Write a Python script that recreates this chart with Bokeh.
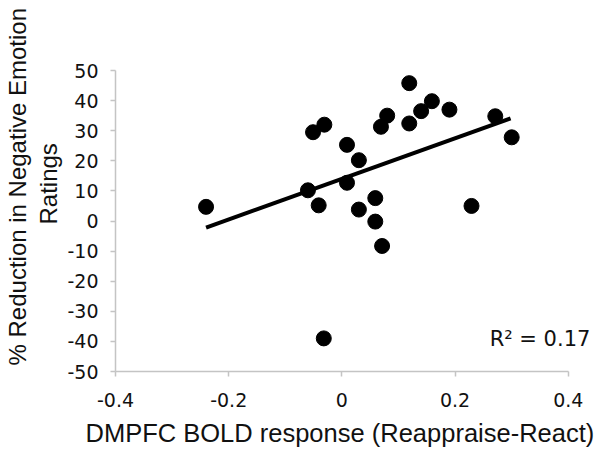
import numpy as np
from bokeh.plotting import figure
from bokeh.models import Range1d, Label, FixedTicker, Title
from bokeh.embed import file_html
from bokeh.resources import INLINE

# Data
dmpfc_bold = [-0.240, -0.060, -0.041, -0.051, -0.031, 0.009, 0.030, 0.009,
              0.030, 0.059, 0.059, 0.071, 0.069, 0.080, 0.119, 0.119,
              0.140, 0.159, 0.190, 0.229, 0.271, 0.300, -0.032]
reduction_pct = [4.7, 10.2, 5.2, 29.5, 32.0, 25.3, 20.2, 12.7,
                 3.8, 7.6, -0.2, -8.3, 31.3, 35.0, 45.8, 32.4,
                 36.5, 39.8, 37.0, 5.0, 34.8, 27.8, -39.0]
fit_x = [-0.240, 0.298]
fit_y = [-2.2, 34.1]
x_ticks = [-0.4, -0.2, 0, 0.2, 0.4]
y_ticks = [-50, -40, -30, -20, -10, 0, 10, 20, 30, 40, 50]
r2_text = "R\u00b2 = 0.17"
r2_pos = (0.439, -39.3)

p = figure(frame_width=476, frame_height=301, output_backend="svg", toolbar_location=None,
           x_range=Range1d(-0.4, 0.441), y_range=Range1d(-50, 50),
           min_border_left=115, min_border_right=9, min_border_top=70,
           min_border_bottom=60)
p.outline_line_color = None
p.grid.grid_line_color = None
p.background_fill_color = "white"
p.border_fill_color = "white"

p.line(fit_x, fit_y, line_color="black", line_width=4)
p.scatter(dmpfc_bold, reduction_pct, size=15, fill_color="black", line_color="black")

tick_font = "DejaVu Sans"
for ax in (p.xaxis[0], p.yaxis[0]):
    ax.axis_line_color = "#c4c4c4"
    ax.axis_line_width = 1.5
    ax.major_tick_line_color = "#c4c4c4"
    ax.major_tick_line_width = 1.5
    ax.major_tick_out = 5
    ax.major_tick_in = 0
    ax.minor_tick_line_color = None
    ax.major_label_text_font = tick_font
    ax.major_label_text_font_size = "19px"
    ax.major_label_text_color = "#111111"

p.xaxis.bounds = (-0.4, 0.4)
p.xaxis.ticker = FixedTicker(ticks=x_ticks)
p.yaxis.ticker = FixedTicker(ticks=y_ticks)
p.xaxis.major_label_overrides = {-0.4: "-0.4", -0.2: "-0.2", 0: "0", 0.2: "0.2", 0.4: "0.4"}
p.yaxis.major_label_overrides = {t: str(t) for t in y_ticks}
p.xaxis.major_label_standoff = 16
p.yaxis.major_label_standoff = 12

p.add_layout(Title(text="DMPFC BOLD response (Reappraise-React)", align="left",
                   offset=-30, standoff=14,
                   text_font="Liberation Sans", text_font_size="25.5px",
                   text_font_style="normal", text_color="#111111"), "below")

p.add_layout(Title(text="Ratings", align="left", offset=147, standoff=5,
                   text_font="Liberation Sans", text_font_size="24px",
                   text_font_style="normal", text_color="#111111"), "left")
p.add_layout(Title(text="% Reduction in Negative Emotion", align="left", offset=6,
                   standoff=0,
                   text_font="Liberation Sans", text_font_size="24px",
                   text_font_style="normal", text_color="#111111"), "left")

p.add_layout(Label(x=r2_pos[0], y=r2_pos[1], text=r2_text, text_align="right",
                   text_baseline="middle", text_font="DejaVu Sans",
                   text_font_size="21px", text_color="#111111"))

open("out.html", "w").write(file_html(p, INLINE))
